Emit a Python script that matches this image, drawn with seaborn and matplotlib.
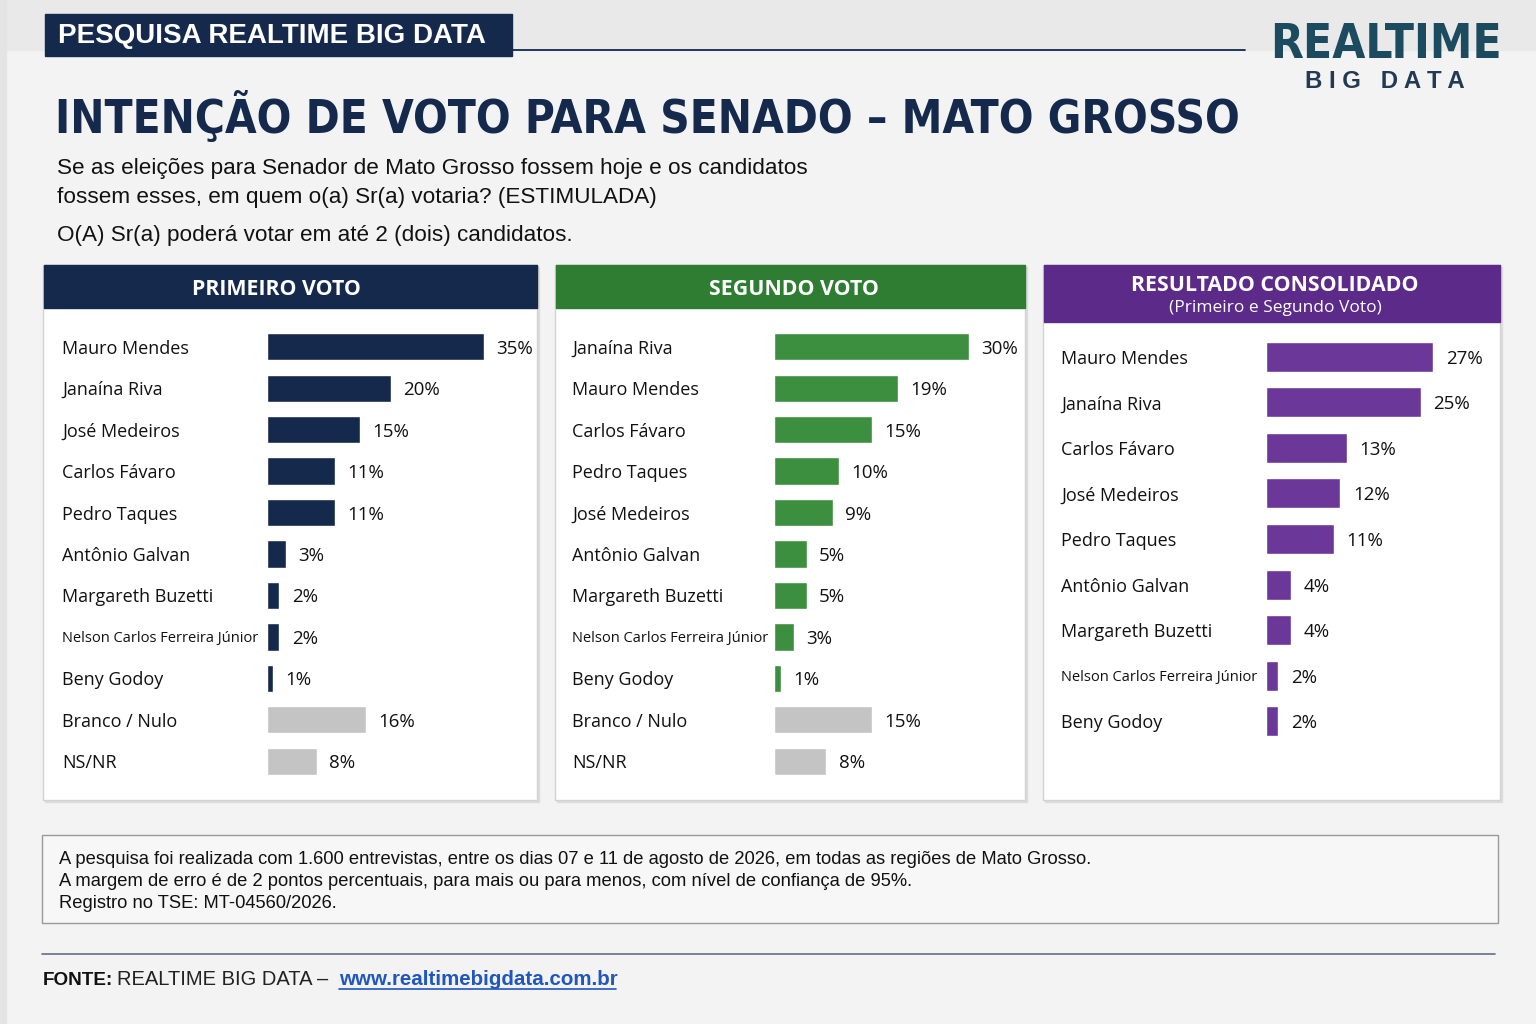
import numpy as np
import pandas as pd
import matplotlib
matplotlib.use("Agg")
import matplotlib.pyplot as plt
from matplotlib import font_manager as fm
import seaborn as sns
from matplotlib.patches import Rectangle

# ---- data ----
primeiro_nomes = ["Mauro Mendes", "Janaína Riva", "José Medeiros", "Carlos Fávaro",
                  "Pedro Taques", "Antônio Galvan", "Margareth Buzetti",
                  "Nelson Carlos Ferreira Júnior", "Beny Godoy", "Branco / Nulo", "NS/NR"]
primeiro_vals = [35, 20, 15, 11, 11, 3, 2, 2, 1, 16, 8]

segundo_nomes = ["Janaína Riva", "Mauro Mendes", "Carlos Fávaro", "Pedro Taques",
                 "José Medeiros", "Antônio Galvan", "Margareth Buzetti",
                 "Nelson Carlos Ferreira Júnior", "Beny Godoy", "Branco / Nulo", "NS/NR"]
segundo_vals = [30, 19, 15, 10, 9, 5, 5, 3, 1, 15, 8]

consol_nomes = ["Mauro Mendes", "Janaína Riva", "Carlos Fávaro", "José Medeiros",
                "Pedro Taques", "Antônio Galvan", "Margareth Buzetti",
                "Nelson Carlos Ferreira Júnior", "Beny Godoy"]
consol_vals = [27, 25, 13, 12, 11, 4, 4, 2, 2]

nao_candidatos = ["Branco / Nulo", "NS/NR"]

NAVY = "#15294d"
GREEN_HEAD = "#2e7d32"
GREEN_BAR = "#3b8f3f"
PURPLE_HEAD = "#5c2a88"
PURPLE_BAR = "#6b3798"
GREY_BAR = "#c4c4c4"
TEAL = "#1c4a5e"

W, H = 1536, 1024
sns.set_theme(style="white")
plt.rcParams["font.family"] = ["Liberation Sans", "DejaVu Sans"]


def weight_of(f):
    w = f.weight
    return w if isinstance(w, int) else fm.weight_dict.get(w, 400)


def condensed_bold():
    for f in fm.fontManager.ttflist:
        narrow = f.stretch in ("condensed", "semi-condensed", "extra-condensed") \
            or "Condensed" in f.name or "Narrow" in f.name
        if narrow and weight_of(f) >= 700 and f.style == "normal":
            return fm.FontProperties(fname=f.fname)
    return fm.FontProperties(family="Liberation Sans", weight="bold")


def family_with_bold(cands):
    for c in cands:
        if any(f.name == c and weight_of(f) >= 700 for f in fm.fontManager.ttflist):
            return c
    return "DejaVu Sans"


HUMAN = [family_with_bold(["Noto Sans", "Open Sans", "Lato", "Roboto"]), "DejaVu Sans"]
NARROW = condensed_bold()

fig = plt.figure(figsize=(W / 100, H / 100), dpi=100)
fig.patch.set_facecolor("#f3f3f3")
renderer = fig.canvas.get_renderer()


def fit_width(t, target):
    bb = t.get_window_extent(renderer)
    t.set_fontsize(t.get_fontsize() * target / bb.width)


# background axes in pixel coordinates for the decorations
bg = fig.add_axes([0, 0, 1, 1], zorder=0)
bg.set_xlim(0, W)
bg.set_ylim(H, 0)
bg.axis("off")

bg.add_patch(Rectangle((0, 0), W, 50, color="#e9e9e9", zorder=0))
bg.add_patch(Rectangle((0, 0), 6, H, color="#e4e4e4", zorder=0))

# header band
bg.add_patch(Rectangle((45, 14), 467, 42, color=NAVY, zorder=2))
bg.text(58, 36, "PESQUISA REALTIME BIG DATA", color="white", fontsize=20,
        fontweight="bold", va="center", ha="left", zorder=3)
bg.plot([512, 1245], [50, 50], color=NAVY, lw=1.3, zorder=2)

# logo
logo = bg.text(1386, 45, "REALTIME", color=TEAL, ha="center", va="center",
               fontproperties=NARROW)
logo.set_fontsize(44)
fit_width(logo, 232)
sub_logo = bg.text(1385, 82, "B I G   D A T A", color="#233a55", fontsize=16, fontweight="bold",
                   ha="center", va="center")
fit_width(sub_logo, 160)

# title and question
title = bg.text(55, 117, "INTENÇÃO DE VOTO PARA SENADO – MATO GROSSO", color=NAVY,
                ha="left", va="center", fontproperties=NARROW)
title.set_fontsize(46)
fit_width(title, 1185)
bg.text(57, 166, "Se as eleições para Senador de Mato Grosso fossem hoje e os candidatos",
        fontsize=16.2, color="#111111", va="center_baseline")
bg.text(57, 195, "fossem esses, em quem o(a) Sr(a) votaria? (ESTIMULADA)",
        fontsize=16.2, color="#111111", va="center_baseline")
bg.text(57, 233, "O(A) Sr(a) poderá votar em até 2 (dois) candidatos.",
        fontsize=16.2, color="#111111", va="center_baseline")

# panels
panels = [
    dict(x=43, w=494, head=43, color=NAVY, title="PRIMEIRO VOTO", sub=None, cx=276),
    dict(x=555, w=470, head=43, color=GREEN_HEAD, title="SEGUNDO VOTO", sub=None, cx=794),
    dict(x=1043, w=457, head=57, color=PURPLE_HEAD, title="RESULTADO CONSOLIDADO",
         sub="(Primeiro e Segundo Voto)", cx=1275),
]
for p in panels:
    bg.add_patch(Rectangle((p["x"] + 2, 267), p["w"], 535, color="#dcdcdc", zorder=1))
    bg.add_patch(Rectangle((p["x"], 265), p["w"], 535, facecolor="white",
                           edgecolor="#d2d2d2", lw=1, zorder=1.5))
    bg.add_patch(Rectangle((p["x"] + 1, 265), p["w"] - 1, p["head"], color=p["color"], zorder=2))
    ty = 287 if p["sub"] is None else 283
    bg.text(p["cx"], ty, p["title"], color="white", fontsize=15.4, fontweight="bold",
            ha="center", va="center_baseline", family=HUMAN, zorder=3)
    if p["sub"]:
        bg.text(p["cx"], 306, p["sub"], color="white", fontsize=12.5,
                ha="center", va="center_baseline", family=HUMAN, zorder=3)


def bar_panel(nomes, vals, cor, left, right, top, bottom, px_per_pct, label_left):
    ax = fig.add_axes([left / W, 1 - bottom / H, (right - left) / W, (bottom - top) / H], zorder=2)
    df = pd.DataFrame({"nome": nomes, "valor": vals})
    df["grupo"] = np.where(df["nome"].isin(nao_candidatos), "outro", "cand")
    sns.barplot(data=df, x="valor", y="nome", hue="grupo",
                palette={"cand": cor, "outro": GREY_BAR}, dodge=False,
                legend=False, width=0.66, ax=ax, saturation=1)
    ax.set_xlim(0, (right - left) / px_per_pct)
    ax.set_ylim(len(nomes) - 0.5, -0.5)
    ax.patch.set_visible(False)
    for s in ax.spines.values():
        s.set_visible(False)
    ax.set_xticks([])
    ax.set_xlabel("")
    ax.set_ylabel("")
    ax.tick_params(axis="y", length=0, pad=(left - label_left) * 72 / 100)
    for t in ax.get_yticklabels():
        t.set_ha("left")
        t.set_va("center_baseline")
        t.set_family(HUMAN)
        t.set_color("#111111")
        t.set_fontsize(10.5 if len(t.get_text()) > 20 else 13)
    for c in ax.containers:
        for lab in ax.bar_label(c, fmt="%g%%", padding=9, fontsize=13.5, color="#111111",
                                family=HUMAN):
            lab.set_va("center_baseline")
    return ax


bar_panel(primeiro_nomes, primeiro_vals, NAVY, 267, 532, 326, 782, 6.2, 62)
bar_panel(segundo_nomes, segundo_vals, GREEN_BAR, 774, 1020, 326, 782, 6.5, 572)
bar_panel(consol_nomes, consol_vals, PURPLE_BAR, 1266, 1495, 334, 744, 6.2, 1061)

# methodology note
bg.add_patch(Rectangle((42, 835), 1456, 88, facecolor="#f7f7f7", edgecolor="#9a9a9a", lw=1, zorder=1))
notas = [
    "A pesquisa foi realizada com 1.600 entrevistas, entre os dias 07 e 11 de agosto de 2026, em todas as regiões de Mato Grosso.",
    "A margem de erro é de 2 pontos percentuais, para mais ou para menos, com nível de confiança de 95%.",
    "Registro no TSE: MT-04560/2026.",
]
for i, n in enumerate(notas):
    bg.text(59, 857 + 22 * i, n, fontsize=13.2, color="#111111", va="center_baseline", zorder=2)

# source
bg.plot([42, 1495], [954, 954], color="#5d6f88", lw=1.2)
bg.text(43, 985, "FONTE:", fontsize=13.6, fontweight="bold", color="#111111", va="baseline")
bg.text(117, 985, "REALTIME BIG DATA –", fontsize=14.5, color="#222222", va="baseline")
bg.text(339, 985, "www.realtimebigdata.com.br", fontsize=14.8, color="#1f56c0",
        fontweight="bold", va="baseline")
bg.plot([339, 616], [989, 989], color="#1f56c0", lw=1.2)

fig.savefig("out.png", dpi=100, facecolor=fig.get_facecolor())
